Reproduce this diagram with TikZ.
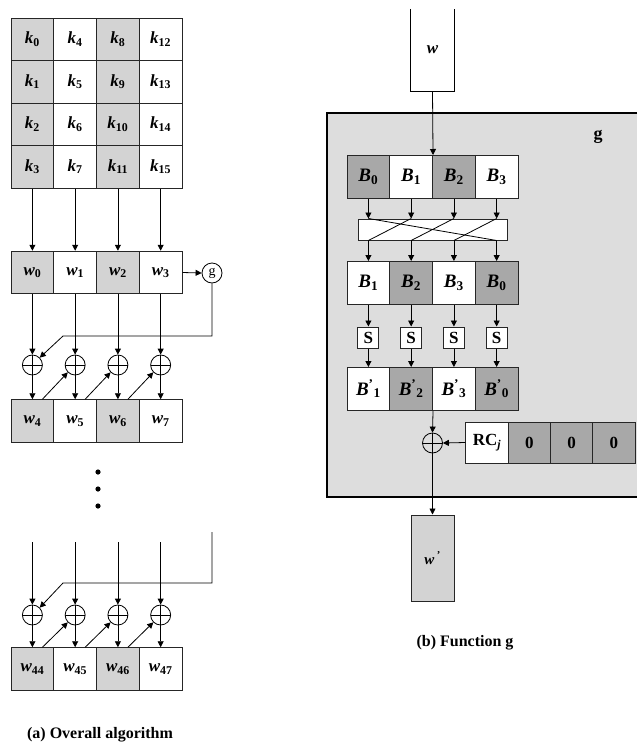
\documentclass[tikz,border=0pt]{standalone}
\usepackage{fontspec}
\setmainfont{Liberation Serif}
\usetikzlibrary{arrows.meta,calc}
\definecolor{lg}{HTML}{D3D3D3}
\definecolor{dg}{HTML}{A8A8A8}
\definecolor{gbox}{HTML}{DDDDDD}
\newcommand\sbs[1]{\textsubscript{\upshape #1}}
\newcommand\bp[1]{\textit{B}\textsuperscript{\upshape '}\textsubscript{\upshape #1}}
\begin{document}
\begin{tikzpicture}[x=1pt,y=-1pt,
  every node/.style={inner sep=0pt},
  arr/.style={line width=0.8pt,-{Triangle[length=6pt,width=6pt]}},
  ln/.style={line width=0.8pt},
  cell/.style={draw=black!85,line width=1pt,minimum width=42.75pt,minimum height=42.5pt,
    font=\fontsize{17}{17}\selectfont\bfseries\itshape},
  bcell/.style={draw=black!85,line width=1pt,minimum width=42.75pt,minimum height=43pt,
    font=\fontsize{19}{19}\selectfont\bfseries\itshape},
  rcell/.style={draw=black!85,line width=1pt,minimum width=42.25pt,minimum height=41pt,
    font=\fontsize{17}{17}\selectfont\bfseries},
  sbox/.style={draw=black!85,line width=1pt,fill=white,minimum width=21pt,minimum height=21pt,
    font=\fontsize{17}{17}\selectfont\bfseries},
  xorn/.style={circle,draw,line width=0.8pt,minimum size=20pt,
    path picture={\draw[line width=0.8pt] (path picture bounding box.north) -- (path picture bounding box.south)
      (path picture bounding box.west) -- (path picture bounding box.east);}},
  captxt/.style={font=\fontsize{16}{16}\selectfont\bfseries}
  ]
\useasboundingbox (0,0) rectangle (637,744);

% ---------------- (a) overall algorithm ----------------
\foreach \c/\f in {0/lg,1/white,2/lg,3/white}{
  \foreach \r in {0,...,3}{
    \pgfmathtruncatemacro\i{4*\c+\r}
    \node[cell,fill=\f] (k\i) at ({32.4+42.75*\c},{39.25+42.5*\r}) {k\sbs{\i}};
  }
  \pgfmathtruncatemacro\a{\c}
  \pgfmathtruncatemacro\b{\c+4}
  \pgfmathtruncatemacro\d{\c+44}
  \node[cell,fill=\f] (w\a) at ({32.4+42.75*\c},272.5) {w\sbs{\a}};
  \node[cell,fill=\f] (w\b) at ({32.4+42.75*\c},421) {w\sbs{\b}};
  \node[cell,fill=\f] (w\d) at ({32.4+42.75*\c},669) {w\sbs{\d}};
  \node[xorn] (xa\c) at ({32.4+42.75*\c},365) {};
  \node[xorn] (xb\c) at ({32.4+42.75*\c},615) {};
  \coordinate (t\c) at ({32.4+42.75*\c},542);
}
\node[circle,draw,line width=0.8pt,minimum size=20pt,font=\fontsize{14}{14}\selectfont] (g) at (212,273) {g};

\draw[arr] (k3.south) -- (w0.north);
\draw[arr] (k7.south) -- (w1.north);
\draw[arr] (k11.south) -- (w2.north);
\draw[arr] (k15.south) -- (w3.north);
\draw[arr] (w3.east) -- (g.west);

\foreach \c in {0,...,3}{
  \pgfmathtruncatemacro\b{\c+4}
  \pgfmathtruncatemacro\d{\c+44}
  \draw[arr] (w\c.south) -- (xa\c.north);
  \draw[arr] (xa\c.south) -- (w\b.north);
  \draw[arr] (t\c) -- (xb\c.north);
  \draw[arr] (xb\c.south) -- (w\d.north);
}
\foreach \c/\n in {0/1,1/2,2/3}{
  \pgfmathtruncatemacro\b{\c+4}
  \pgfmathtruncatemacro\d{\c+44}
  \draw[arr] ([xshift=10pt]w\b.north) -- (xa\n.south west);
  \draw[arr] ([xshift=10pt]w\d.north) -- (xb\n.south west);
}
\coordinate (ga) at (212,336);
\coordinate (gb) at (63,336);
\draw[arr] (g.south) -- (ga) -- (gb) -- (xa0.north east);
\coordinate (gt) at (212,532);
\coordinate (gc) at (212,583);
\coordinate (gd) at (63,583);
\draw[arr] (gt) -- (gc) -- (gd) -- (xb0.north east);

\fill (98,472) circle (2.6);
\fill (98,489) circle (2.6);
\fill (98,506) circle (2.6);

\node[captxt] (capa) at (100,735) {(a) Overall algorithm};

% ---------------- (b) function g ----------------
\fill[gbox] (327,113) rectangle (637,497);
\draw[line width=1.8pt] (637,113) -- (327,113) -- (327,497) -- (637,497);
\node[font=\fontsize{18}{18}\selectfont\bfseries] (glab) at (598,137) {g};

\node[minimum width=43pt,minimum height=82pt,font=\fontsize{17}{17}\selectfont\bfseries\itshape] (w) at (432.5,50) {w};
\draw[line width=1pt] (w.north west) -- (w.south west) -- (w.south east) -- (w.north east);

\foreach \p/\n/\f in {0/0/dg,1/1/white,2/2/dg,3/3/white}{
  \node[bcell,fill=\f] (B\n) at ({368.4+42.75*\p},177) {B\sbs{\n}};
}
\foreach \p/\n/\f in {0/1/white,1/2/dg,2/3/white,3/0/dg}{
  \node[bcell,fill=\f] (D\p) at ({368.4+42.75*\p},283) {B\sbs{\n}};
  \node[sbox] (S\p) at ({368.4+42.75*\p},337.5) {S};
  \node[bcell,fill=\f] (E\p) at ({368.4+42.75*\p},389) {\bp{\n}};
}
\draw[arr] (w.south) -- (B1.north east);

\node[draw=black!85,line width=1pt,fill=white,minimum width=149pt,minimum height=21pt] (P) at (432.5,229.5) {};
\draw[ln] (B0.south |- P.north) -- (B3.south |- P.south);
\draw[ln] (B1.south |- P.north) -- (B0.south |- P.south);
\draw[ln] (B2.south |- P.north) -- (B1.south |- P.south);
\draw[ln] (B3.south |- P.north) -- (B2.south |- P.south);
\foreach \n in {0,...,3}{
  \draw[arr] (B\n.south) -- (B\n.south |- P.north);
  \draw[arr] (D\n.north |- P.south) -- (D\n.north);
  \draw[arr] (D\n.south) -- (S\n.north);
  \draw[arr] (S\n.south) -- (E\n.north);
}

\node[xorn] (X) at (432.5,443) {};
\draw[arr] (E1.south east) -- (X.north);
\node[rcell,fill=white] (R0) at (487.1,442.5) {RC\textsubscript{\itshape j}};
\node[rcell,fill=dg] (R1) at (529.4,442.5) {0};
\node[rcell,fill=dg] (R2) at (571.6,442.5) {0};
\node[rcell,fill=dg] (R3) at (613.9,442.5) {0};
\draw[arr] (R0.west) -- (X.east);

\node[draw=black!85,line width=1pt,fill=lg,minimum width=43pt,minimum height=86pt,
  font=\fontsize{15}{15}\selectfont\bfseries\itshape] (wp) at (432.5,558) {w\,\textsuperscript{\upshape '}};
\draw[arr] (X.south) -- (wp.north);

\node[captxt] (capb) at (465,643) {(b) Function g};
\end{tikzpicture}
\end{document}
